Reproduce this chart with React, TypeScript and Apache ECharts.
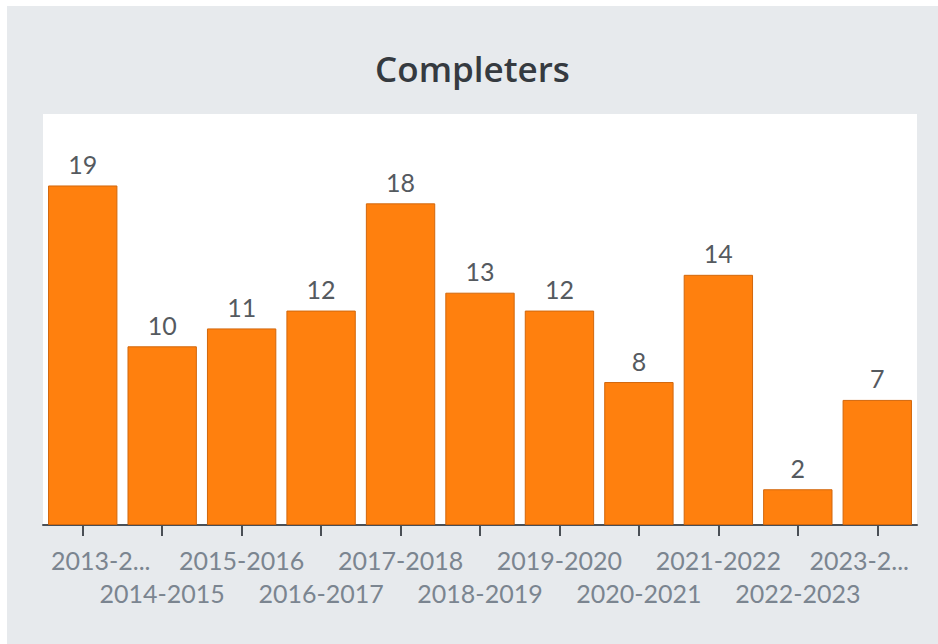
import React, { useEffect, useRef } from "react";
import * as echarts from "echarts";

const categories = [
  "2013-2014", "2014-2015", "2015-2016", "2016-2017", "2017-2018", "2018-2019",
  "2019-2020", "2020-2021", "2021-2022", "2022-2023", "2023-2024",
];
const completers = [19, 10, 11, 12, 18, 13, 12, 8, 14, 2, 7];
const titleText = "Completers";

export default function App() {
  const ref = useRef<HTMLDivElement>(null);
  useEffect(() => {
    if (!ref.current) return;
    const chart = echarts.init(ref.current, null, { renderer: "svg" });
    const n = categories.length;
    const lab = { fontFamily: "Lato", fontSize: 25, lineHeight: 33, color: "#7b8590" };
    chart.setOption({
      animation: false,
      backgroundColor: "#e7eaed",
      title: {
        text: titleText,
        left: "center",
        top: 40,
        textStyle: { fontFamily: "Open Sans", fontSize: 35, fontWeight: 600, color: "#353a40" },
      },
      grid: {
        show: true,
        backgroundColor: "#ffffff",
        borderWidth: 0,
        left: 36,
        right: 21,
        top: 108,
        bottom: 119,
        containLabel: false,
        outerBoundsMode: "none",
      },
      xAxis: {
        type: "category",
        data: categories,
        axisLine: { lineStyle: { color: "#4a4f55", width: 2 } },
        axisTick: { show: true, alignWithLabel: true, length: 11, lineStyle: { color: "#4a4f55", width: 2 } },
        axisLabel: {
          interval: 0,
          margin: 18,
          ...lab,
          formatter: (v: string, i: number) => {
            let t = v;
            if (i === 0) t = "{first|" + v.slice(0, 6) + "...}";
            else if (i === n - 1) t = "{last|" + v.slice(0, 6) + "...}";
            return i % 2 === 1 ? "\n" + t : t;
          },
          rich: {
            first: { ...lab, padding: [0, 0, 0, 36] },
            last: { ...lab, padding: [0, 36, 0, 0] },
          },
        },
      },
      yAxis: { type: "value", min: 0, max: 23, show: false, splitLine: { show: false } },
      series: [
        {
          type: "bar",
          data: completers,
          barCategoryGap: "12.7%",
          itemStyle: { color: "#ff800e", borderColor: "#d2670c", borderWidth: 1 },
          label: {
            show: true,
            position: "top",
            distance: 9,
            fontFamily: "Lato",
            fontSize: 25,
            color: "#555a5f",
          },
        },
      ],
    });
    return () => chart.dispose();
  }, []);
  return (
    <div
      ref={ref}
      style={{ position: "absolute", left: 7, top: 6, width: 931, height: 638 }}
    />
  );
}
